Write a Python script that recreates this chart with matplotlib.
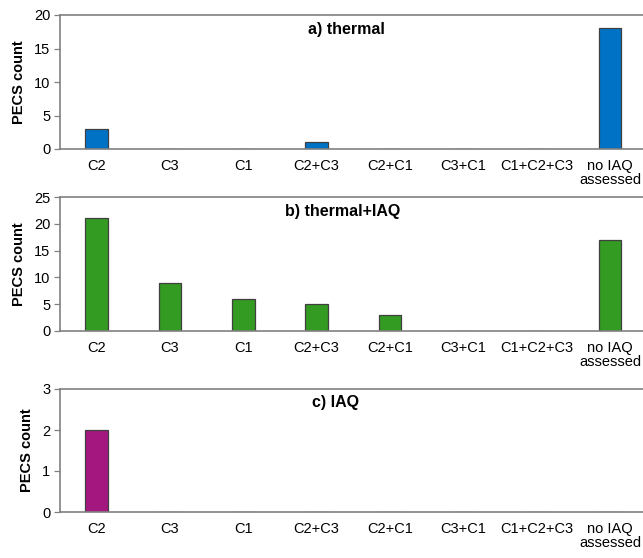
import matplotlib
matplotlib.use("Agg")
import matplotlib.pyplot as plt
import numpy as np

plt.rcParams['font.family'] = ['Liberation Sans', 'DejaVu Sans']

categories = ["C2", "C3", "C1", "C2+C3", "C2+C1", "C3+C1", "C1+C2+C3", "no IAQ\nassessed"]
thermal = [3, 0, 0, 1, 0, 0, 0, 18]
thermal_iaq = [21, 9, 6, 5, 3, 0, 0, 17]
iaq = [2, 0, 0, 0, 0, 0, 0, 0]

panels = [
    ("a) thermal", thermal, "#0072C6", 20, 5, 3.4),
    ("b) thermal+IAQ", thermal_iaq, "#339A22", 25, 5, 3.35),
    ("c) IAQ", iaq, "#A3177F", 3, 1, 3.25),
]

W, H = 643, 558
fig = plt.figure(figsize=(W / 100, H / 100), dpi=100)

# axes boxes in pixels: (top, bottom)
boxes = [(15, 149), (197, 331), (389, 512)]
left_px, right_px = 60, 643

x = np.arange(len(categories))
for (title, vals, color, ymax, step, tx), (top, bot) in zip(panels, boxes):
    ax = fig.add_axes([left_px / W, (H - bot) / H, (right_px - left_px) / W, (bot - top) / H])
    ax.bar(x, vals, width=0.31, color=color, edgecolor="#404040", linewidth=0.9, zorder=2)
    ax.set_xlim(-0.5, 7.45)
    ax.set_ylim(0, ymax)
    ax.set_yticks(np.arange(0, ymax + 0.01, step))
    ax.set_xticks(x)
    ax.set_xticklabels(categories, fontsize=10.5, linespacing=1.05)
    ax.tick_params(axis="x", length=0, pad=7)
    ax.tick_params(axis="y", length=4, width=0.9, color="#808080", labelsize=10.5, pad=3)
    for side in ("left", "top", "bottom"):
        ax.spines[side].set_color("#808080")
        ax.spines[side].set_linewidth(1.2)
        ax.spines[side].set_zorder(3)
    ax.spines["right"].set_visible(False)
    ax.set_ylabel("PECS count", fontsize=10.5, fontweight="bold", labelpad=6)
    ax.text(tx, ymax * 0.89, title, ha="center", va="center", fontsize=11.5, fontweight="bold")

fig.savefig("out.png", dpi=100)
